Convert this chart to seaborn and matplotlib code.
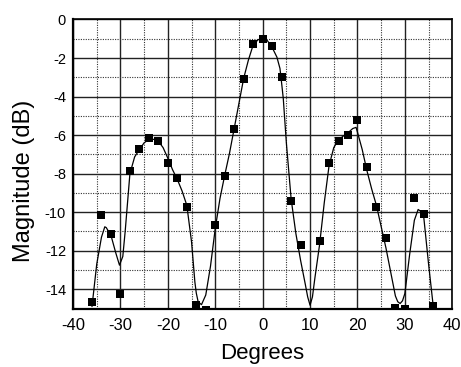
import matplotlib
matplotlib.use("Agg")
import matplotlib.pyplot as plt
import seaborn as sns
import pandas as pd
from matplotlib.ticker import MultipleLocator

# Measured data (squares)
meas_deg = [-36, -34, -32, -30, -28, -26, -24, -22, -20, -18, -16, -14, -12, -10,
            -8, -6, -4, -2, 0, 2, 4, 6, 8, 12, 14, 16, 18, 20, 22, 24, 26, 28,
            30, 32, 34, 36]
meas_db = [-14.68, -10.16, -11.13, -14.24, -7.85, -6.73, -6.17, -6.30, -7.47, -8.22,
           -9.72, -14.83, -15.09, -10.68, -8.11, -5.69, -3.09, -1.29, -1.00, -1.38,
           -2.97, -9.41, -11.68, -11.49, -7.44, -6.33, -5.97, -5.22, -7.68, -9.72,
           -11.35, -14.97, -15.04, -9.29, -10.10, -14.87]

# Fitted curve
curve_deg = [-36, -35, -34, -33.3, -33, -32, -31, -30.2, -29.5, -29, -28.8, -28, -27,
             -26, -25, -24, -23, -22, -21, -20, -19, -18, -17, -16, -15, -14.3, -14,
             -13.6, -12.9, -12, -11, -10, -9, -8, -7, -6, -5, -4, -3, -2, -1, 0, 1,
             2, 3, 3.65, 4, 4.35, 5, 6, 7, 8, 9, 9.5, 10, 10.5, 11, 12, 13, 14, 15,
             16, 17, 18, 19, 19.7, 20, 21, 22, 23, 24, 25, 26, 27, 28, 28.5, 29,
             29.5, 30, 31, 32, 32.8, 33.3, 34, 35, 36]
curve_db = [-14.9, -12.7, -11.3, -10.76, -10.8, -11.2, -12.1, -12.75, -12.3, -11.0,
            -10.4, -8.0, -7.13, -6.75, -6.4, -6.23, -6.22, -6.32, -6.65, -7.2, -7.8,
            -8.3, -8.9, -9.64, -11.54, -13.62, -14.2, -14.66, -14.8, -14.3, -12.8,
            -10.85, -9.29, -8.08, -6.95, -5.65, -4.35, -3.05, -2.1, -1.32, -1.06,
            -0.94, -1.1, -1.45, -1.95, -2.54, -3.3, -4.1, -6.4, -9.3, -11.1, -12.5,
            -13.75, -14.4, -14.83, -14.4, -13.45, -11.7, -9.5, -7.6, -6.65, -6.25,
            -6.05, -5.88, -5.66, -5.6, -5.85, -6.75, -7.85, -8.8, -9.65, -10.75,
            -11.85, -13.1, -14.35, -14.65, -14.74, -14.6, -14.22, -12.2, -10.42,
            -9.86, -9.95, -10.3, -12.7, -14.92]

x_ticks = [-40, -30, -20, -10, 0, 10, 20, 30, 40]
y_ticks = [0, -2, -4, -6, -8, -10, -12, -14]

sns.set_theme(style="white")
plt.rcParams['font.family'] = ['Liberation Sans', 'DejaVu Sans']
plt.rcParams['axes.unicode_minus'] = False

fig = plt.figure(figsize=(4.61, 3.67), dpi=100)
ax = fig.add_axes([0.1584, 0.1594, 0.8227, 0.7875])

curve = pd.DataFrame({"deg": curve_deg, "db": curve_db})
meas = pd.DataFrame({"deg": meas_deg, "db": meas_db})

sns.lineplot(data=curve, x="deg", y="db", ax=ax, color="black", linewidth=0.9,
             sort=False, zorder=3)
sns.scatterplot(data=meas, x="deg", y="db", ax=ax, marker="s", s=30,
                color="black", edgecolor="black", linewidth=0, zorder=4)

ax.set_xlim(-40, 40)
ax.set_ylim(-15, 0)
ax.set_xticks(x_ticks)
ax.set_yticks(y_ticks)
ax.xaxis.set_minor_locator(MultipleLocator(5))
ax.yaxis.set_minor_locator(MultipleLocator(1))
ax.grid(which="major", color="#222222", linestyle="-", linewidth=1.0, zorder=1)
ax.grid(which="minor", color="#333333", linestyle=(0, (1, 1.2)), linewidth=0.8, zorder=1)
ax.set_axisbelow(True)

ax.tick_params(axis="both", which="both", length=0, colors="black")
ax.tick_params(axis="x", labelsize=12, pad=7)
ax.tick_params(axis="y", labelsize=10.5, pad=5)
ax.set_xlabel("Degrees", fontsize=16, labelpad=7, color="black")
ax.set_ylabel("Magnitude (dB)", fontsize=17, labelpad=7, color="black", y=0.4415)

for sp in ax.spines.values():
    sp.set_visible(True)
    sp.set_color("black")
    sp.set_linewidth(1.2)
ax.spines["bottom"].set_linewidth(1.6)
ax.spines["left"].set_linewidth(1.6)

fig.savefig("out.png", dpi=100)
